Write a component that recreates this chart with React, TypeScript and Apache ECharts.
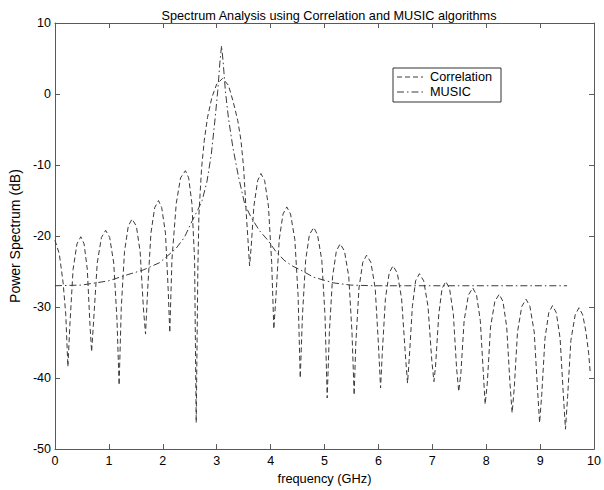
import React, { useEffect, useRef } from "react";
import * as echarts from "echarts";

const titleText = "Spectrum Analysis using Correlation and MUSIC algorithms";
const legendNames = ["Correlation", "MUSIC"];
const xTicks = [0, 1, 2, 3, 4, 5, 6, 7, 8, 9, 10];
const yTicks = [-50, -40, -30, -20, -10, 0, 10];

// Correlation spectrum (dB)
const corrFreq = [
  0.0, 0.08, 0.15, 0.2, 0.24, 0.276, 0.336, 0.408, 0.48, 0.54, 0.6, 0.65, 0.68,
  0.719, 0.784, 0.862, 0.94, 1.015, 1.09, 1.15, 1.19, 1.23, 1.29, 1.36, 1.43,
  1.51, 1.58, 1.64, 1.68, 1.72, 1.78, 1.85, 1.92, 1.98, 2.05, 2.1, 2.13, 2.17,
  2.25, 2.33, 2.42, 2.48, 2.54, 2.59, 2.62, 2.65, 2.67, 2.72, 2.77, 2.83, 2.91,
  3.0, 3.11, 3.22, 3.31, 3.39, 3.45, 3.5, 3.55, 3.58, 3.61, 3.64, 3.69, 3.76,
  3.82, 3.89, 3.96, 4.02, 4.06, 4.1, 4.16, 4.23, 4.3, 4.37, 4.45, 4.51, 4.55,
  4.59, 4.65, 4.72, 4.8, 4.87, 4.95, 5.01, 5.05, 5.09, 5.15, 5.22, 5.29, 5.37,
  5.45, 5.51, 5.55, 5.58, 5.64, 5.71, 5.78, 5.86, 5.94, 6.0, 6.04, 6.07, 6.13,
  6.2, 6.27, 6.35, 6.43, 6.5, 6.54, 6.57, 6.63, 6.69, 6.76, 6.84, 6.92, 6.99,
  7.03, 7.06, 7.12, 7.18, 7.25, 7.32, 7.39, 7.45, 7.49, 7.53, 7.59, 7.67, 7.75,
  7.82, 7.89, 7.95, 7.98, 8.02, 8.08, 8.16, 8.24, 8.31, 8.38, 8.44, 8.48, 8.52,
  8.58, 8.66, 8.74, 8.81, 8.89, 8.95, 8.99, 9.03, 9.09, 9.16, 9.23, 9.3, 9.37,
  9.43, 9.47, 9.51, 9.57, 9.65, 9.72, 9.79, 9.85, 9.9, 9.93,
];
const corrDb = [
  -20.6, -22.5, -26.5, -31.0, -38.4, -32.6, -24.7, -21.1, -20.1, -21.1, -24.7, -32.6, -36.3,
  -31.7, -23.8, -20.2, -19.2, -20.2, -23.8, -31.7, -41.0, -30.1, -22.2, -18.6, -17.6,
  -18.6, -22.2, -30.1, -33.8, -27.5, -19.6, -16.0, -15.0, -16.0, -19.6, -27.5, -33.6, -23.3,
  -15.4, -11.8, -10.8, -11.8, -15.4, -23.3, -46.3, -25.0, -17.0, -10.4, -6.5, -3.3, -0.5,
  1.4, 2.2, 1.2, -1.2, -3.7, -6.5, -10.4, -17.0, -20.5, -24.2, -21.5, -15.8, -12.2,
  -11.2, -12.2, -15.8, -23.7, -33.1, -28.4, -20.5, -16.9, -15.9, -16.9, -20.5, -28.4, -40.0,
  -31.3, -23.4, -19.8, -18.8, -19.8, -23.4, -31.3, -42.8, -33.6, -25.7, -22.1, -21.1, -22.1,
  -25.7, -33.6, -42.4, -35.2, -27.3, -23.7, -22.7, -23.7, -27.3, -35.2, -41.4, -36.7, -28.8,
  -25.2, -24.2, -25.2, -28.8, -36.7, -40.7, -37.5, -29.9, -26.3, -25.3, -26.3, -29.9, -37.5,
  -40.5, -38.3, -31.0, -27.4, -26.4, -27.4, -31.0, -38.6, -41.9, -39.3, -31.9, -28.3, -27.3,
  -28.3, -31.9, -39.8, -43.7, -40.7, -32.8, -29.2, -28.2, -29.2, -32.8, -40.7, -44.9, -41.4,
  -33.5, -29.9, -28.9, -29.9, -33.5, -41.4, -46.3, -42.3, -34.4, -30.8, -29.8, -30.8, -34.4,
  -42.3, -47.2, -42.6, -34.7, -31.1, -30.1, -31.1, -33.5, -36.5, -39.3,
];

// MUSIC pseudo-spectrum (dB)
const musicFreq = [
  0.0, 0.5, 1.0, 1.32, 1.63, 1.94, 2.24, 2.4, 2.55, 2.65, 2.73, 2.82, 2.9, 2.97,
  3.02, 3.06, 3.09, 3.12, 3.16, 3.22, 3.3, 3.4, 3.52, 3.64, 3.8, 3.95, 4.1, 4.25,
  4.4, 4.56, 4.8, 5.17, 5.48, 5.9, 6.5, 7.5, 8.5, 9.5,
];
const musicDb = [
  -27.0, -26.9, -26.3, -25.5, -24.8, -23.75, -21.8, -20.2, -17.8, -16.3, -15.0, -12.3, -8.5, -3.5,
  0.5, 4.5, 6.8, 4.5, 0.5, -3.5, -7.5, -11.5, -15.5, -17.4, -19.3, -20.6, -22.2, -23.4,
  -24.2, -24.8, -25.8, -26.6, -26.9, -27.0, -27.0, -27.0, -27.0, -27.0,
];

const FONT = "'Liberation Sans', Arial, sans-serif";
const FRAME = "#5a5a5a";
const LINE = "#3a3a3a";
const CORR_DASH = [5, 3];
const MUSIC_DASH = [7, 3, 1.5, 3];

export default function App() {
  const ref = useRef<HTMLDivElement>(null);
  useEffect(() => {
    if (!ref.current) return;
    const chart = echarts.init(ref.current, null, { renderer: "svg" });
    const corrData = corrFreq.map((f, i) => [f, corrDb[i]]);
    const musicData = musicFreq.map((f, i) => [f, musicDb[i]]);
    const axisCommon = {
      axisLine: { show: true, onZero: false, lineStyle: { color: FRAME, width: 1 } },
      axisTick: { show: true, inside: true, length: 5, lineStyle: { color: FRAME } },
      splitLine: { show: false },
    };
    const legendX = 393;
    const legendY = 68;
    chart.setOption({
      animation: false,
      backgroundColor: "#fff",
      textStyle: { fontFamily: FONT },
      title: {
        text: titleText,
        left: 324,
        textAlign: "center",
        top: 4,
        textStyle: { fontFamily: FONT, fontSize: 12.7, fontWeight: "normal", color: "#000" },
      },
      grid: { left: 51, right: 6, top: 23, bottom: 35 },
      graphic: [
        {
          type: "rect",
          shape: { x: legendX, y: legendY, width: 108, height: 34 },
          style: { fill: "#fff", stroke: "#333", lineWidth: 1 },
          z: 10,
        },
        {
          type: "line",
          shape: { x1: legendX + 4, y1: legendY + 9, x2: legendX + 30, y2: legendY + 9 },
          style: { stroke: LINE, lineWidth: 1, lineDash: CORR_DASH },
          z: 11,
        },
        {
          type: "line",
          shape: { x1: legendX + 4, y1: legendY + 24, x2: legendX + 30, y2: legendY + 24 },
          style: { stroke: LINE, lineWidth: 1, lineDash: MUSIC_DASH },
          z: 11,
        },
        {
          type: "text",
          x: legendX + 37,
          y: legendY + 9,
          style: {
            text: legendNames[0],
            fontFamily: FONT,
            fontSize: 12.7,
            fill: "#000",
            verticalAlign: "middle",
          },
          z: 11,
        },
        {
          type: "text",
          x: legendX + 37,
          y: legendY + 24,
          style: {
            text: legendNames[1],
            fontFamily: FONT,
            fontSize: 12.7,
            fill: "#000",
            verticalAlign: "middle",
          },
          z: 11,
        },
      ],
      xAxis: [
        {
          type: "value",
          min: xTicks[0],
          max: xTicks[xTicks.length - 1],
          interval: 1,
          name: "frequency (GHz)",
          nameLocation: "middle",
          nameGap: 21,
          nameTextStyle: { fontFamily: FONT, fontSize: 12.8, color: "#000" },
          axisLabel: { fontFamily: FONT, fontSize: 12.5, color: "#000", margin: 5 },
          ...axisCommon,
        },
        {
          type: "value",
          position: "top",
          min: xTicks[0],
          max: xTicks[xTicks.length - 1],
          interval: 1,
          axisLabel: { show: false },
          ...axisCommon,
        },
      ],
      yAxis: [
        {
          type: "value",
          min: yTicks[0],
          max: yTicks[yTicks.length - 1],
          interval: 10,
          name: "Power Spectrum (dB)",
          nameLocation: "middle",
          nameGap: 26,
          nameTextStyle: { fontFamily: FONT, fontSize: 14, color: "#000" },
          axisLabel: { fontFamily: FONT, fontSize: 12.5, color: "#000", margin: 4 },
          ...axisCommon,
        },
        {
          type: "value",
          position: "right",
          min: yTicks[0],
          max: yTicks[yTicks.length - 1],
          interval: 10,
          axisLabel: { show: false },
          ...axisCommon,
        },
      ],
      series: [
        {
          name: legendNames[0],
          type: "line",
          data: corrData,
          showSymbol: false,
          symbol: "none",
          lineStyle: { color: LINE, width: 1, type: CORR_DASH },
          itemStyle: { color: LINE },
        },
        {
          name: legendNames[1],
          type: "line",
          data: musicData,
          showSymbol: false,
          symbol: "none",
          lineStyle: { color: LINE, width: 1, type: MUSIC_DASH },
          itemStyle: { color: LINE },
        },
      ],
    });
    return () => chart.dispose();
  }, []);
  return (
    <div
      ref={ref}
      style={{ position: "fixed", left: 0, top: 0, width: 604, height: 490 }}
    />
  );
}
